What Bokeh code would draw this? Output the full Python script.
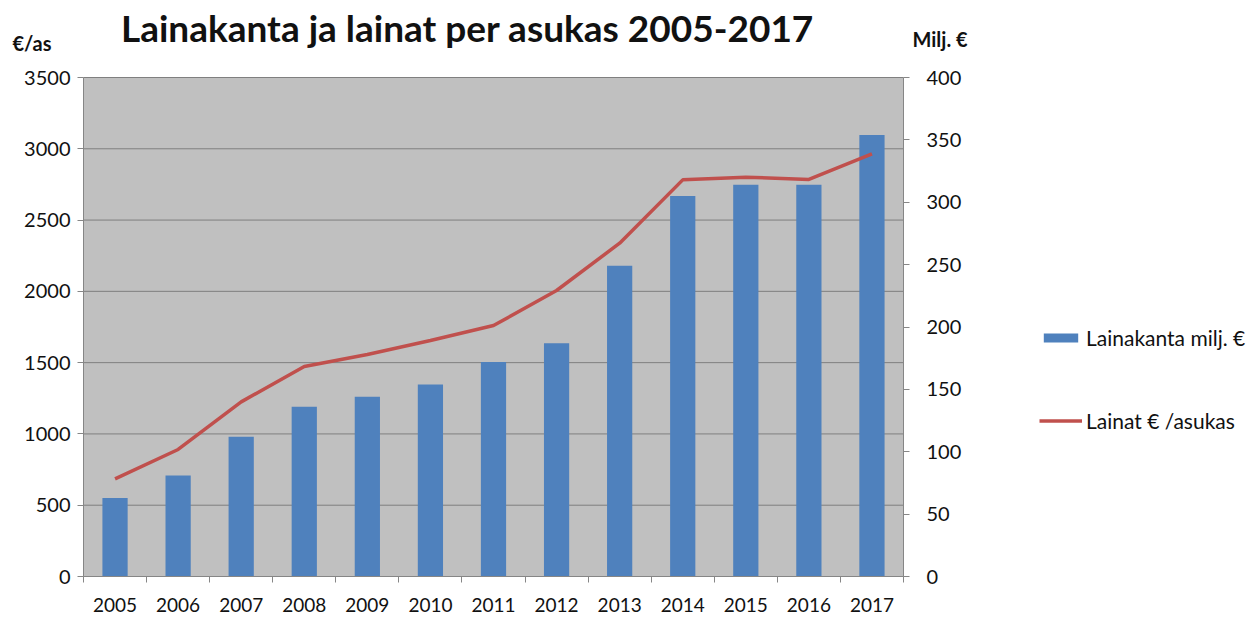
from bokeh.plotting import figure
from bokeh.models import (Range1d, LinearAxis, FixedTicker, Label, Legend, LegendItem,
                          ColumnDataSource, BoxAnnotation)
from bokeh.embed import file_html
from bokeh.resources import INLINE

years = ["2005", "2006", "2007", "2008", "2009", "2010", "2011", "2012",
         "2013", "2014", "2015", "2016", "2017"]
lainakanta_milj = [63, 81, 112, 136, 144, 154, 172, 187, 249, 305, 314, 314, 354]
lainat_per_asukas = [685, 891, 1225, 1473, 1557, 1655, 1760, 2006, 2338, 2782, 2801, 2785, 2965]
left_ticks = [0, 500, 1000, 1500, 2000, 2500, 3000, 3500]
right_ticks = [0, 50, 100, 150, 200, 250, 300, 350, 400]

FONT = "Lato"
W, H = 1260, 619
# plot area in canvas pixels
PL, PR, PT, PB = 83, 903, 77, 576
n = len(years)
LMAX, RMAX = 3500, 400
ux = (PR - PL) / n
uyl = (PB - PT) / LMAX
uyr = (PB - PT) / RMAX

xc = [i + 0.5 for i in range(n)]
src = ColumnDataSource(dict(x=xc, bars=lainakanta_milj, line=lainat_per_asukas))

p = figure(width=W, height=H, output_backend="svg", toolbar_location=None,
           x_axis_type=None, y_axis_type=None,
           x_range=Range1d(-PL / ux, (W - PL) / ux),
           y_range=Range1d(-(H - PB) / uyl, PB / uyl),
           min_border=0, min_border_left=0, min_border_right=0,
           min_border_top=0, min_border_bottom=0)
p.extra_y_ranges = {"right": Range1d(-(H - PB) / uyr, PB / uyr)}
p.background_fill_color = "white"
p.border_fill_color = "white"
p.outline_line_color = None
p.grid.visible = False

# plot area background
p.add_layout(BoxAnnotation(left=0, right=n, bottom=0, top=LMAX, fill_color="#C0C0C0",
                           fill_alpha=1, line_color=None, level="image"))

# horizontal gridlines at the left-axis ticks
p.segment(x0=[0] * len(left_ticks), x1=[n] * len(left_ticks), y0=left_ticks, y1=left_ticks,
          line_color="#7F7F7F", line_width=1, level="underlay")

AX = "#868686"
TXT = "#111111"

# x axis
xa = LinearAxis(fixed_location=0, bounds=(0, n),
                ticker=FixedTicker(ticks=xc, minor_ticks=list(range(n + 1))))
xa.major_label_overrides = {x: y for x, y in zip(xc, years)}
xa.major_tick_line_color = None
xa.major_tick_out = 0
xa.major_tick_in = 0
xa.minor_tick_in = 0
xa.minor_tick_out = 6
xa.minor_tick_line_color = AX
xa.axis_line_color = AX
xa.major_label_text_font = FONT
xa.major_label_text_font_size = "19px"
xa.major_label_text_color = TXT
xa.major_label_standoff = 15
p.add_layout(xa, "below")

# left axis
ya = LinearAxis(fixed_location=0, bounds=(0, LMAX), ticker=FixedTicker(ticks=left_ticks))
ya.minor_tick_line_color = None
ya.major_tick_in = 0
ya.major_tick_out = 6
ya.major_tick_line_color = AX
ya.axis_line_color = AX
ya.major_label_text_font = FONT
ya.major_label_text_font_size = "20px"
ya.major_label_text_color = TXT
ya.major_label_standoff = 7
p.add_layout(ya, "left")

# right axis
ra = LinearAxis(y_range_name="right", fixed_location=n, bounds=(0, RMAX),
                ticker=FixedTicker(ticks=right_ticks))
ra.minor_tick_line_color = None
ra.major_tick_in = 0
ra.major_tick_out = 6
ra.major_tick_line_color = AX
ra.axis_line_color = AX
ra.major_label_text_font = FONT
ra.major_label_text_font_size = "20px"
ra.major_label_text_color = TXT
ra.major_label_standoff = 17
p.add_layout(ra, "right")

bars = p.vbar(x="x", top="bars", width=0.4, source=src, y_range_name="right",
              fill_color="#4F81BD", line_color=None)
ln = p.line(x="x", y="line", source=src, line_color="#C0504D", line_width=3.5)

legend = Legend(items=[LegendItem(label="Lainakanta milj. €", renderers=[bars]),
                       LegendItem(label="Lainat € /asukas", renderers=[ln])],
                location=(1039, 186), orientation="vertical")
legend.glyph_width = 43
legend.glyph_height = 11
legend.label_height = 25
legend.label_standoff = 4
legend.spacing = 58
legend.padding = 0
legend.margin = 0
legend.border_line_color = None
legend.background_fill_alpha = 0
legend.label_text_font = FONT
legend.label_text_font_size = "21px"
legend.label_text_color = TXT
p.add_layout(legend, "center")

p.add_layout(Label(x=(467 - PL) / ux, y=(PB - 27) / uyl,
                   text="Lainakanta ja lainat per asukas 2005-2017",
                   text_font=FONT, text_font_style="bold", text_font_size="37px",
                   text_align="center", text_baseline="middle", text_color=TXT))
p.add_layout(Label(x=(12 - PL) / ux, y=(PB - 42) / uyl, text="€/as", text_font=FONT,
                   text_font_style="bold", text_font_size="20px", text_align="left",
                   text_baseline="middle", text_color=TXT))
p.add_layout(Label(x=(912 - PL) / ux, y=(PB - 38) / uyl, text="Milj. €", text_font=FONT,
                   text_font_style="bold", text_font_size="20px", text_align="left",
                   text_baseline="middle", text_color=TXT))

open("out.html", "w").write(file_html(p, INLINE))
